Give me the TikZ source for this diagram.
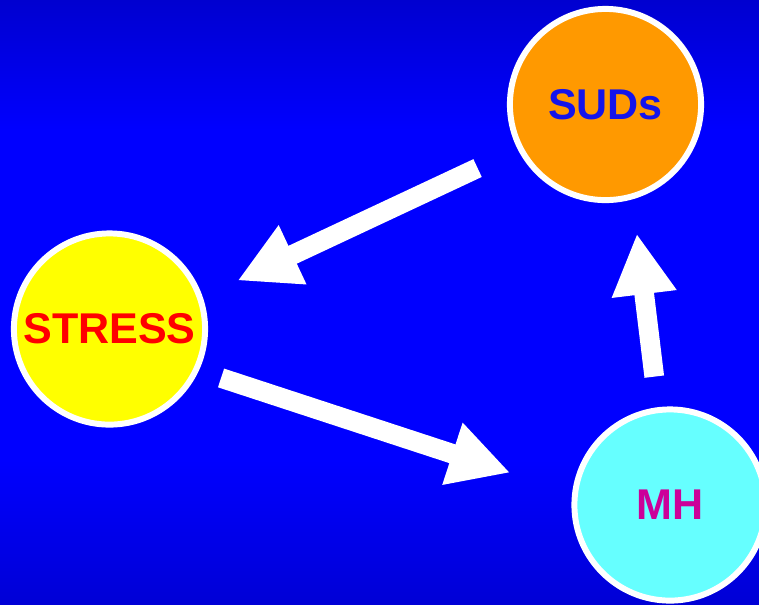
\documentclass[tikz,border=0pt]{standalone}
\usepackage{fontspec}
\setmainfont{Liberation Sans}
\usetikzlibrary{arrows.meta}
\definecolor{bgtop}{RGB}{0,0,208}
\definecolor{bgmid}{RGB}{0,0,255}
\definecolor{bgbot}{RGB}{0,0,214}
\definecolor{sudsfill}{RGB}{255,153,0}
\definecolor{stressfill}{RGB}{255,255,0}
\definecolor{mhfill}{RGB}{102,255,255}
\definecolor{sudstext}{RGB}{20,20,235}
\definecolor{mhtext}{RGB}{204,0,153}
\tikzstyle{bigarrow}=[-{Triangle[length=34.6pt,width=34.6pt]}, line width=11.2pt, color=white]

\begin{document}
\begin{tikzpicture}[
  stage/.style={circle, draw=white, line width=3.4pt, minimum size=108.8pt,
                inner sep=0pt, font=\fontsize{24.5}{30}\selectfont\bfseries}
]
\useasboundingbox (0,0) rectangle (15.18,-12.08);
\clip (0,0) rectangle (15.18,-12.08);
% background: bright blue, darker towards top and bottom
\fill[bgmid] (0,0) rectangle (15.18,-12.08);
\shade[top color=bgtop, bottom color=bgmid] (0,0) rectangle (15.18,-2.6);
\shade[top color=bgmid, bottom color=bgbot] (0,-9.2) rectangle (15.18,-12.08);

\node[stage, fill=sudsfill, text=sudstext]  (suds)   at (12.11,-2.09) {SUDs};
\node[stage, fill=stressfill, text=red]     (stress) at (2.19,-6.58)  {STRESS};
\node[stage, fill=mhfill, text=mhtext]      (mh)     at (13.40,-10.10) {MH};

\draw[bigarrow, shorten <=25.2pt, shorten >=21.9pt] (suds.207.8) -- (stress.19.4);
\draw[bigarrow, shorten <=13.3pt, shorten >=37.1pt] (stress.335.8) -- (mh.173.1);
\draw[bigarrow, shorten <=17.5pt, shorten >=19.7pt] (mh.97.8) -- (suds.286.8);
\end{tikzpicture}
\end{document}
